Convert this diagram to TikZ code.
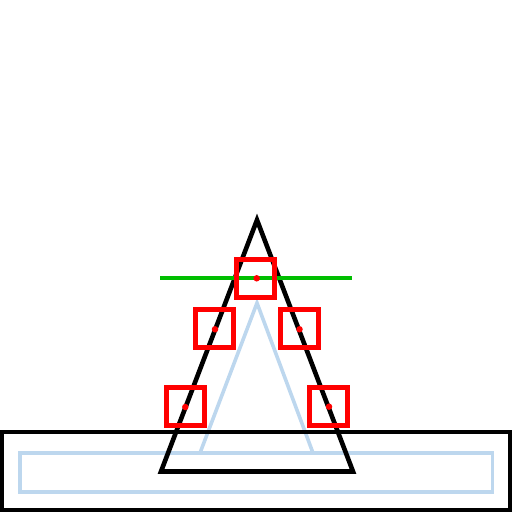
\documentclass[tikz,border=0pt]{standalone}
\begin{document}
\begin{tikzpicture}[x=1pt,y=-1pt,
  blueline/.style={draw={rgb,255:red,189;green,215;blue,238},line width=3.6pt},
  blackline/.style={draw=black,line width=4.6pt},
  marker/.style={draw=red,line width=5pt,minimum size=38pt,inner sep=0pt,rectangle},
  dotmark/.style={fill=red,circle,inner sep=0pt,minimum size=6.5pt}]
\useasboundingbox (0,0) rectangle (512,512);
% coordinates
\coordinate (A) at (257,220);
\coordinate (BL) at (161,471.5);
\coordinate (BR) at (353,471.5);
\coordinate (a) at (257,303);
\coordinate (bl) at (200,453);
\coordinate (br) at (313,453);
% light blue triangle
\draw[blueline,line join=miter] (bl) -- (a) -- (br);
% outer base
\draw[blackline,line width=4.4pt] (2,432) rectangle (510,510);
% light blue rectangle
\draw[blueline] (19.7,452.7) rectangle (492.3,491.7);
% black triangle
\draw[blackline,line join=miter] (A) -- (BR) -- (BL) -- cycle;
% green line
\draw[draw={rgb,255:red,0;green,190;blue,0},line width=4.2pt] (160,278) coordinate (g1) -- (352,278) coordinate (g2);
% markers
\node[marker] (m1) at (255.5,278) {};
\node[marker] (m2) at (214.3,328.3) {};
\node[marker] (m3) at (299,328.3) {};
\node[marker] (m4) at (185,406.7) {};
\node[marker] (m5) at (328,406.7) {};
\node[dotmark] (d1) at (256.7,278.3) {};
\node[dotmark] (d2) at (215,329.3) {};
\node[dotmark] (d3) at (299.5,329.3) {};
\node[dotmark] (d4) at (185.3,407) {};
\node[dotmark] (d5) at (329,406.7) {};
\end{tikzpicture}
\end{document}
